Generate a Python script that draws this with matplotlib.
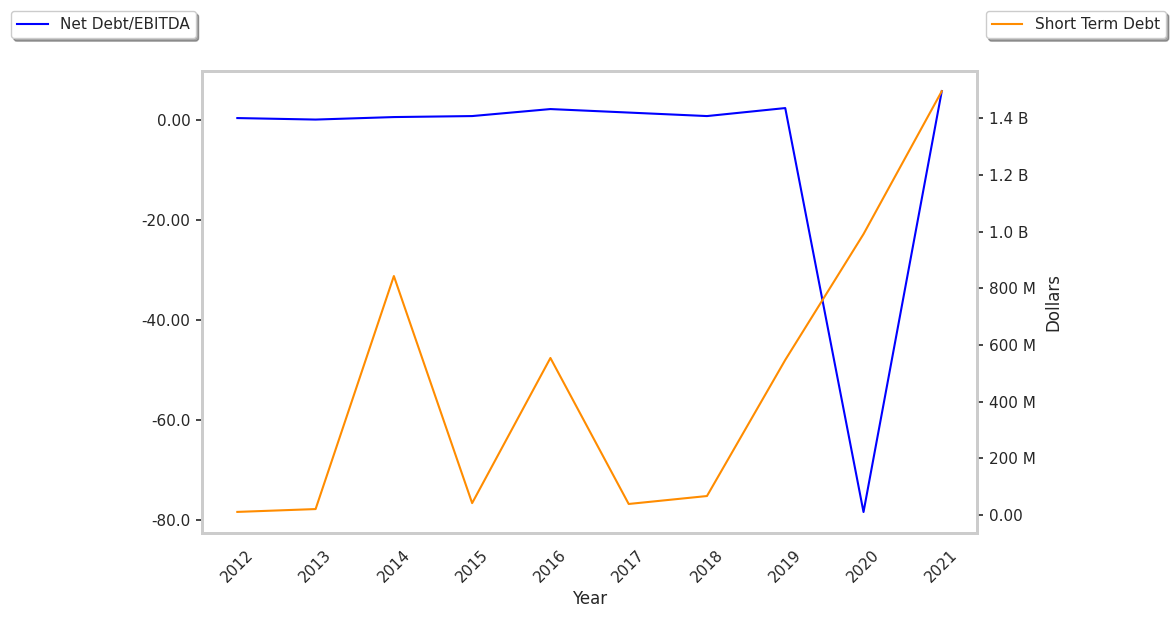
import matplotlib
matplotlib.use("Agg")
import matplotlib.pyplot as plt

# data
years = [2012, 2013, 2014, 2015, 2016, 2017, 2018, 2019, 2020, 2021]
net_debt_ebitda = [0.4, 0.1, 0.6, 0.8, 2.2, 1.5, 0.8, 2.4, -78.4, 5.8]
short_term_debt = [0.011e9, 0.021e9, 0.843e9, 0.042e9, 0.554e9,
                   0.039e9, 0.067e9, 0.547e9, 0.991e9, 1.495e9]

left_ticks = [0, -20, -40, -60, -80]
left_labels = ["0.00", "-20.00", "-40.00", "-60.0", "-80.0"]
right_ticks = [0, 0.2e9, 0.4e9, 0.6e9, 0.8e9, 1.0e9, 1.2e9, 1.4e9]
right_labels = ["0.00", "200 M", "400 M", "600 M", "800 M", "1.0 B", "1.2 B", "1.4 B"]

text_col = "#262626"
plt.rcParams["font.family"] = "DejaVu Sans"
plt.rcParams["text.color"] = text_col
plt.rcParams["axes.labelcolor"] = text_col
plt.rcParams["xtick.color"] = text_col
plt.rcParams["ytick.color"] = text_col

fig = plt.figure(figsize=(11.75, 6.18), dpi=100)
ax = fig.add_axes([0.172, 0.1375, 0.6595, 0.7475])
ax2 = ax.twinx()

l1, = ax.plot(years, net_debt_ebitda, color="blue", lw=1.5, label="Net Debt/EBITDA")
l2, = ax2.plot(years, short_term_debt, color="darkorange", lw=1.5, label="Short Term Debt")

ax.set_ylim(-82.6, 9.8)
ax2.set_ylim(-0.0635e9, 1.566e9)
ax.set_yticks(left_ticks)
ax.set_yticklabels(left_labels)
ax2.set_yticks(right_ticks)
ax2.set_yticklabels(right_labels)

ax.set_xticks(years)
ax.set_xticklabels([str(y) for y in years], rotation=45)
ax.set_xlabel("Year", fontsize=12)
ax2.set_ylabel("Dollars", fontsize=12, labelpad=6)

for a in (ax, ax2):
    a.tick_params(axis="y", labelsize=11, length=4.5, width=1.2, pad=4)
    a.tick_params(axis="x", labelsize=11, length=0, pad=10)
    for s in a.spines.values():
        s.set_color("#cccccc")
        s.set_linewidth(2.0)
    a.grid(False)

fig.legend(handles=[l1], loc="upper left", bbox_to_anchor=(0.0094, 0.982),
           borderaxespad=0, fancybox=True, shadow=True, fontsize=11)
fig.legend(handles=[l2], loc="upper right", bbox_to_anchor=(0.9923, 0.982),
           borderaxespad=0, fancybox=True, shadow=True, fontsize=11)

fig.savefig("out.png", dpi=100)
